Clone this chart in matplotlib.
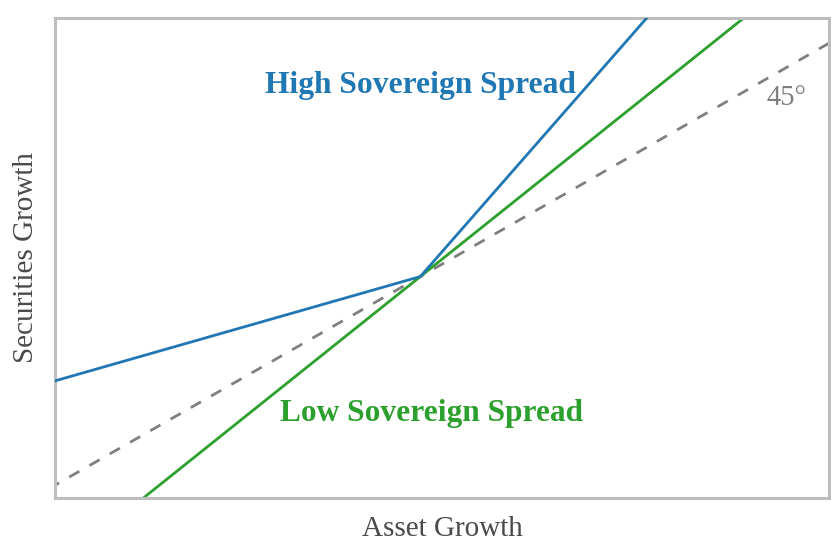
import numpy as np
import matplotlib
matplotlib.use("Agg")
import matplotlib.pyplot as plt

plt.rcParams['font.family'] = ['Liberation Serif', 'DejaVu Serif']

# kink point and slopes (data units)
x0 = 0.472
y0 = 0.472
high_slopes = [0.5, 2.0]   # below / above kink
low_slope = 1.4
xlim = [0.0, 1.0]
ylim = [-0.029, 1.057]

fig = plt.figure(figsize=(8.31, 5.42), dpi=100)
ax = fig.add_axes([55/831, 1-498/542, 774/831, 480/542])

xs = np.array([xlim[0], x0, xlim[1]])
# 45 degree line
ax.plot(xs, xs, color='#808080', lw=2.0, ls=(2.5, (4.2, 4.2)), zorder=1)
# low spread
ax.plot(xs, y0 + low_slope*(xs - x0), color='#2ca02c', lw=2.0, zorder=2)
# high spread
yh = np.where(xs < x0, y0 + high_slopes[0]*(xs - x0), y0 + high_slopes[1]*(xs - x0))
ax.plot(xs, yh, color='#1f77b4', lw=2.0, zorder=3)

ax.set_xlim(xlim)
ax.set_ylim(ylim)
ax.set_xticks([])
ax.set_yticks([])
for s in ax.spines.values():
    s.set_color('#bdbdbd')
    s.set_linewidth(2.2)

ax.text((420-55)/774, (498-86)/480, 'High Sovereign Spread', transform=ax.transAxes,
        ha='center', va='center', color='#1f77b4', fontsize=22.7, fontweight='bold')
ax.text((431-55)/774, (498-413)/480, 'Low Sovereign Spread', transform=ax.transAxes,
        ha='center', va='center', color='#2ca02c', fontsize=22.6, fontweight='bold')
ax.text((786-55)/774, (498-98)/480, '45°', transform=ax.transAxes,
        ha='center', va='center', color='#808080', fontsize=20.6)

ax.set_xlabel('Asset Growth', fontsize=21, color='#4a4a4a', va='baseline')
ax.set_ylabel('Securities Growth', fontsize=21, color='#4a4a4a', va='center')
ax.xaxis.set_label_coords(0.5, (498-536)/480)
ax.yaxis.set_label_coords((26-55)/774, 0.5)

fig.savefig('out.png', dpi=100)
